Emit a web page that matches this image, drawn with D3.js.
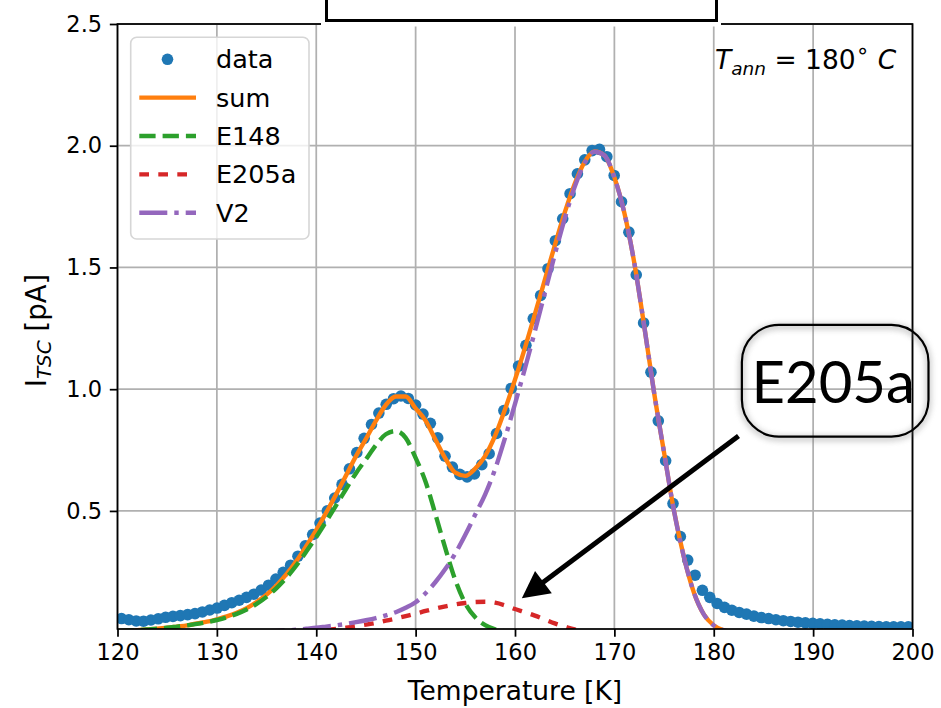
<!DOCTYPE html>
<html>
<head>
<meta charset="utf-8">
<script src="https://cdn.jsdelivr.net/npm/d3@7"></script>
<style>
  body { margin: 0; background: #ffffff; }
  svg { display: block; }
</style>
</head>
<body>
<svg id="chart" width="941" height="708"></svg>
<script>
// ---- Measured TSC current (blue dots) ----
const tempData = [
  120.40, 121.14, 121.88, 122.62, 123.36, 124.10, 124.84, 125.58, 126.32, 127.06,
  127.80, 128.54, 129.28, 130.02, 130.76, 131.50, 132.24, 132.98, 133.72, 134.46,
  135.20, 135.94, 136.68, 137.42, 138.16, 138.90, 139.64, 140.38, 141.12, 141.86,
  142.60, 143.34, 144.08, 144.82, 145.56, 146.30, 147.04, 147.78, 148.52, 149.26,
  150.00, 150.74, 151.48, 152.22, 152.96, 153.70, 154.44, 155.18, 155.92, 156.66,
  157.40, 158.14, 158.88, 159.62, 160.36, 161.10, 161.84, 162.58, 163.32, 164.06,
  164.80, 165.54, 166.28, 167.02, 167.76, 168.50, 169.24, 169.98, 170.72, 171.46,
  172.20, 172.94, 173.68, 174.42, 175.16, 175.90, 176.64, 177.38, 178.12, 178.86,
  179.60, 180.34, 181.08, 181.82, 182.56, 183.30, 184.04, 184.78, 185.52, 186.26,
  187.00, 187.74, 188.48, 189.22, 189.96, 190.70, 191.44, 192.18, 192.92, 193.66,
  194.40, 195.14, 195.88, 196.62, 197.36, 198.10, 198.84, 199.58
];
const currentData = [
  0.058, 0.053, 0.048, 0.047, 0.052, 0.057, 0.063, 0.067, 0.070, 0.074,
  0.078, 0.085, 0.093, 0.101, 0.112, 0.123, 0.133, 0.145, 0.158, 0.175,
  0.195, 0.220, 0.248, 0.277, 0.314, 0.357, 0.403, 0.450, 0.500, 0.553,
  0.609, 0.673, 0.740, 0.798, 0.855, 0.902, 0.938, 0.961, 0.972, 0.962,
  0.935, 0.898, 0.860, 0.800, 0.725, 0.680, 0.650, 0.640, 0.652, 0.690,
  0.735, 0.818, 0.912, 1.003, 1.095, 1.180, 1.290, 1.385, 1.495, 1.610,
  1.700, 1.803, 1.885, 1.942, 1.980, 1.985, 1.955, 1.878, 1.770, 1.645,
  1.470, 1.272, 1.070, 0.870, 0.706, 0.530, 0.395, 0.298, 0.236, 0.174,
  0.145, 0.120, 0.104, 0.092, 0.083, 0.076, 0.068, 0.062, 0.058, 0.053,
  0.049, 0.046, 0.043, 0.040, 0.038, 0.036, 0.034, 0.032, 0.031, 0.029,
  0.028, 0.027, 0.026, 0.025, 0.024, 0.024, 0.024, 0.024
];

// ---- Fit curves, sampled every 1 K ----
const fitT = [
  120, 121, 122, 123, 124, 125, 126, 127, 128, 129,
  130, 131, 132, 133, 134, 135, 136, 137, 138, 139,
  140, 141, 142, 143, 144, 145, 146, 147, 148, 149,
  150, 151, 152, 153, 154, 155, 156, 157, 158, 159,
  160, 161, 162, 163, 164, 165, 166, 167, 168, 169,
  170, 171, 172, 173, 174, 175, 176, 177, 178, 179,
  180, 181, 182, 183, 184, 185, 186, 187, 188, 189,
  190, 191, 192, 193, 194, 195, 196, 197, 198, 199, 200
];
const fitSum = [
  0.006, 0.008, 0.010, 0.013, 0.016, 0.020, 0.025, 0.030, 0.038, 0.045,
  0.055, 0.067, 0.082, 0.101, 0.126, 0.156, 0.194, 0.240, 0.294, 0.356,
  0.421, 0.493, 0.568, 0.646, 0.725, 0.796, 0.870, 0.935, 0.970, 0.970,
  0.921, 0.871, 0.792, 0.715, 0.657, 0.644, 0.674, 0.726, 0.809, 0.918,
  1.039, 1.170, 1.308, 1.449, 1.590, 1.725, 1.843, 1.933, 1.976, 1.960,
  1.870, 1.725, 1.520, 1.260, 0.985, 0.740, 0.500, 0.310, 0.165, 0.075,
  0.030, 0.010, 0.003, 0.001, 0, 0, 0, 0, 0, 0,
  0, 0, 0, 0, 0, 0, 0, 0, 0, 0, 0
];
const fitE148 = [
  0.006, 0.008, 0.010, 0.013, 0.016, 0.020, 0.025, 0.030, 0.036, 0.043,
  0.052, 0.063, 0.077, 0.095, 0.118, 0.147, 0.183, 0.226, 0.276, 0.333,
  0.393, 0.457, 0.523, 0.590, 0.655, 0.712, 0.770, 0.815, 0.828, 0.800,
  0.718, 0.620, 0.485, 0.345, 0.215, 0.120, 0.063, 0.031, 0.014, 0.006,
  0.002, 0.001, 0, 0, 0, 0, 0, 0, 0, 0,
  0, 0, 0, 0, 0, 0, 0, 0, 0, 0,
  0, 0, 0, 0, 0, 0, 0, 0, 0, 0,
  0, 0, 0, 0, 0, 0, 0, 0, 0, 0, 0
];
const fitE205a = [
  0, 0, 0, 0, 0, 0, 0, 0, 0.001, 0.001,
  0.001, 0.002, 0.002, 0.002, 0.003, 0.003, 0.004, 0.005, 0.006, 0.007,
  0.008, 0.011, 0.015, 0.020, 0.027, 0.033, 0.040, 0.049, 0.058, 0.068,
  0.078, 0.089, 0.099, 0.108, 0.116, 0.122, 0.126, 0.127, 0.123, 0.112,
  0.097, 0.084, 0.070, 0.054, 0.038, 0.025, 0.013, 0.005, 0.001, 0,
  0, 0, 0, 0, 0, 0, 0, 0, 0, 0,
  0, 0, 0, 0, 0, 0, 0, 0, 0, 0,
  0, 0, 0, 0, 0, 0, 0, 0, 0, 0, 0
];
const fitV2 = [
  0, 0, 0, 0, 0, 0, 0, 0, 0.001, 0.001,
  0.002, 0.002, 0.003, 0.004, 0.005, 0.006, 0.007, 0.009, 0.012, 0.016,
  0.020, 0.025, 0.030, 0.036, 0.043, 0.051, 0.060, 0.071, 0.084, 0.102,
  0.125, 0.162, 0.208, 0.262, 0.326, 0.402, 0.485, 0.568, 0.672, 0.800,
  0.940, 1.085, 1.238, 1.395, 1.552, 1.700, 1.830, 1.928, 1.975, 1.960,
  1.870, 1.725, 1.520, 1.260, 0.985, 0.740, 0.500, 0.310, 0.165, 0.075,
  0.030, 0.010, 0.003, 0.001, 0, 0, 0, 0, 0, 0,
  0, 0, 0, 0, 0, 0, 0, 0, 0, 0, 0
];

// ---- Axes ----
const xTicks = [120, 130, 140, 150, 160, 170, 180, 190, 200];
const yTicks = [0.5, 1.0, 1.5, 2.0, 2.5];
const xDomain = [120, 200];
const yDomain = [0.015, 2.5];

// Annotation anchors in data units
const annText = { T: 180.13, I: 2.315 };
const calloutBox = { T0: 182.83, T1: 201.61, I0: 1.264, I1: 0.805 };
const arrowTail = { T: 182.49, I: 0.808 };
const arrowTip = { T: 160.69, I: 0.141 };

const FONT = "'DejaVu Sans', sans-serif";
const plot = { left: 117.5, right: 912.5, top: 24, bottom: 629 };

const svg = d3.select("#chart");
const x = d3.scaleLinear().domain(xDomain).range([plot.left, plot.right]);
const y = d3.scaleLinear().domain(yDomain).range([plot.bottom, plot.top]);

const defs = svg.append("defs");
defs.append("clipPath").attr("id", "plotClip")
  .append("rect")
  .attr("x", plot.left).attr("y", plot.top)
  .attr("width", plot.right - plot.left).attr("height", plot.bottom - plot.top);

// grid
const grid = svg.append("g").attr("stroke", "#b0b0b0").attr("stroke-width", 1.75);
grid.selectAll("line.gx").data(xTicks).join("line")
  .attr("x1", d => x(d)).attr("x2", d => x(d))
  .attr("y1", plot.top).attr("y2", plot.bottom);
grid.selectAll("line.gy").data(yTicks).join("line")
  .attr("x1", plot.left).attr("x2", plot.right)
  .attr("y1", d => y(d)).attr("y2", d => y(d));

const layer = svg.append("g").attr("clip-path", "url(#plotClip)");

// data points
layer.append("g").selectAll("circle")
  .data(tempData.map((t, i) => [t, currentData[i]]))
  .join("circle")
  .attr("cx", d => x(d[0])).attr("cy", d => y(d[1]))
  .attr("r", 5.8).attr("fill", "#1f77b4");

const line = d3.line().x(d => x(d[0])).y(d => y(d[1])).curve(d3.curveMonotoneX);
const series = [
  { name: "sum", values: fitSum, color: "#ff7f0e", dash: null },
  { name: "E148", values: fitE148, color: "#2ca02c", dash: "16.3,7" },
  { name: "E205a", values: fitE205a, color: "#d62728", dash: "9.7,9.3" },
  { name: "V2", values: fitV2, color: "#9467bd", dash: "28,7,4.4,7" }
];
series.forEach(s => {
  layer.append("path")
    .datum(fitT.map((t, i) => [t, s.values[i]]))
    .attr("d", line)
    .attr("fill", "none")
    .attr("stroke", s.color)
    .attr("stroke-width", 4.4)
    .attr("stroke-dasharray", s.dash);
});

// spines
svg.append("rect")
  .attr("x", plot.left).attr("y", plot.top)
  .attr("width", plot.right - plot.left).attr("height", plot.bottom - plot.top)
  .attr("fill", "none").attr("stroke", "#000").attr("stroke-width", 1.75);

// axes
const xAxis = svg.append("g").attr("transform", `translate(0,${plot.bottom})`)
  .call(d3.axisBottom(x).tickValues(xTicks).tickFormat(d3.format("d"))
    .tickSize(7.7).tickPadding(7.7));
const yAxis = svg.append("g").attr("transform", `translate(${plot.left},0)`)
  .call(d3.axisLeft(y).tickValues(yTicks).tickFormat(d3.format(".1f"))
    .tickSize(7.7).tickPadding(7.7));
[xAxis, yAxis].forEach(a => {
  a.select(".domain").remove();
  a.selectAll(".tick line").attr("stroke", "#000").attr("stroke-width", 1.75);
  a.selectAll(".tick text").attr("font-family", FONT).attr("font-size", 22.5).attr("fill", "#000");
});

// axis titles
svg.append("text")
  .attr("x", (plot.left + plot.right) / 2).attr("y", 700)
  .attr("text-anchor", "middle")
  .attr("font-family", FONT).attr("font-size", 26.5)
  .text("Temperature [K]");

const yl = svg.append("text")
  .attr("transform", `translate(46,${(plot.top + plot.bottom) / 2 + 4}) rotate(-90)`)
  .attr("text-anchor", "middle")
  .attr("font-family", FONT).attr("font-size", 27.5);
yl.append("tspan").text("I");
yl.append("tspan").attr("font-size", 20).attr("font-style", "italic").attr("dy", 5).text("TSC");
yl.append("tspan").attr("dy", -5).text(" [pA]");

// annealing temperature note
const tn = svg.append("text")
  .attr("x", x(annText.T)).attr("y", y(annText.I))
  .attr("font-family", FONT).attr("font-size", 26.5);
tn.append("tspan").attr("font-style", "italic").text("T");
tn.append("tspan").attr("font-style", "italic").attr("font-size", 18.5).attr("dy", 6).text("ann");
tn.append("tspan").attr("dy", -6).text(" = 180");
tn.append("tspan").attr("font-size", 22).attr("dy", -11).text("\u2218");
tn.append("tspan").attr("font-style", "italic").attr("dy", 11).text(" C");

// legend
const legendItems = [
  { label: "data", kind: "dot", color: "#1f77b4" },
  { label: "sum", kind: "line", color: "#ff7f0e", dash: null },
  { label: "E148", kind: "line", color: "#2ca02c", dash: "16.3,7" },
  { label: "E205a", kind: "line", color: "#d62728", dash: "9.7,9.3" },
  { label: "V2", kind: "line", color: "#9467bd", dash: "28,7,4.4,7" }
];
const lg = svg.append("g");
lg.append("rect")
  .attr("x", 130.7).attr("y", 37.3).attr("width", 178.3).attr("height", 201.7)
  .attr("rx", 6).attr("fill", "#ffffff").attr("fill-opacity", 0.8)
  .attr("stroke", "#d6d6d6").attr("stroke-width", 1.6);
legendItems.forEach((it, i) => {
  const cy = 59.3 + i * 38.35;
  if (it.kind === "dot") {
    lg.append("circle").attr("cx", 167.5).attr("cy", cy).attr("r", 5.8).attr("fill", it.color);
  } else {
    lg.append("line").attr("x1", 139.3).attr("x2", 196).attr("y1", cy).attr("y2", cy)
      .attr("stroke", it.color).attr("stroke-width", 4.4)
      .attr("stroke-dasharray", it.dash);
  }
  lg.append("text").attr("x", 216).attr("y", cy + 9)
    .attr("font-family", FONT).attr("font-size", 25.5).text(it.label);
});

// top title frame
svg.append("rect").attr("x", 321).attr("y", -10).attr("width", 400).attr("height", 36.5)
  .attr("fill", "#ffffff");
svg.append("rect").attr("x", 326.5).attr("y", -10).attr("width", 390).attr("height", 30.5)
  .attr("fill", "#ffffff").attr("stroke", "#000").attr("stroke-width", 3);

// E205a callout with arrow
const glow = defs.append("filter").attr("id", "glow")
  .attr("x", "-20%").attr("y", "-30%").attr("width", "140%").attr("height", "160%");
glow.append("feGaussianBlur").attr("stdDeviation", 3);

const bx0 = x(calloutBox.T0), bx1 = x(calloutBox.T1);
const by0 = y(calloutBox.I0), by1 = y(calloutBox.I1);
svg.append("rect").attr("x", bx0).attr("y", by0 + 1.5)
  .attr("width", bx1 - bx0).attr("height", by1 - by0)
  .attr("rx", 37).attr("fill", "none").attr("stroke", "#777").attr("stroke-width", 4)
  .attr("opacity", 0.55).attr("filter", "url(#glow)");
svg.append("rect").attr("x", bx0).attr("y", by0)
  .attr("width", bx1 - bx0).attr("height", by1 - by0)
  .attr("rx", 37).attr("fill", "none").attr("stroke", "#000").attr("stroke-width", 2.2);
svg.append("text")
  .attr("x", (bx0 + bx1) / 2 - 2).attr("y", by0 + 78.3)
  .attr("text-anchor", "middle")
  .attr("font-family", "Lato, 'Open Sans', sans-serif").attr("font-size", 58)
  .text("E205a");

const ax0 = x(arrowTail.T), ay0 = y(arrowTail.I);
const ax1 = x(arrowTip.T), ay1 = y(arrowTip.I);
const len = Math.hypot(ax1 - ax0, ay1 - ay0);
const ux = (ax1 - ax0) / len, uy = (ay1 - ay0) / len;
const headLen = 27, headHalf = 14;
const baseX = ax1 - ux * headLen, baseY = ay1 - uy * headLen;
svg.append("line")
  .attr("x1", ax0).attr("y1", ay0).attr("x2", baseX + ux * 2).attr("y2", baseY + uy * 2)
  .attr("stroke", "#000").attr("stroke-width", 5);
svg.append("path")
  .attr("d", `M${ax1},${ay1} L${baseX - uy * headHalf},${baseY + ux * headHalf} L${baseX + uy * headHalf},${baseY - ux * headHalf} Z`)
  .attr("fill", "#000");
</script>
</body>
</html>
